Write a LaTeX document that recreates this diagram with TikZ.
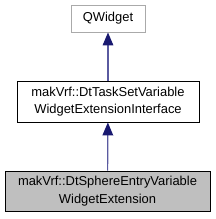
\documentclass[tikz,border=0pt]{standalone}
\usepackage{fontspec}
\setmainfont{Liberation Sans}
\usetikzlibrary{arrows.meta}

\definecolor{edgeline}{RGB}{90,90,160}
\definecolor{edgehead}{RGB}{25,25,112}
\definecolor{extborder}{RGB}{170,170,170}
\definecolor{curfill}{RGB}{191,191,191}

\begin{document}
\begin{tikzpicture}[x=0.75pt,y=-0.75pt,
  cls/.style={draw, line width=0.7pt, fill=white, inner sep=0pt, align=center,
    font=\fontsize{9.7}{13}\selectfont},
  inherit/.style={draw=edgeline, line width=0.9pt,
    -{Triangle[length=9.75pt,width=8pt,fill=edgehead,color=edgehead]}}]
\useasboundingbox (0,0) rectangle (216,219);

\node[cls, draw=extborder, minimum width=55.5pt, minimum height=20.25pt] (qwidget) at (108,18.5) {QWidget};
\node[cls, minimum width=136.5pt, minimum height=30.75pt] (iface) at (108,101.5)
  {makVrf::DtTaskSetVariable\\WidgetExtensionInterface};
\node[cls, fill=curfill, minimum width=153.75pt, minimum height=30pt] (sphere) at (107.5,191)
  {makVrf::DtSphereEntryVariable\\WidgetExtension};

\draw[inherit] (iface) -- (qwidget);
\draw[inherit] (sphere) -- (iface);
\end{tikzpicture}
\end{document}
